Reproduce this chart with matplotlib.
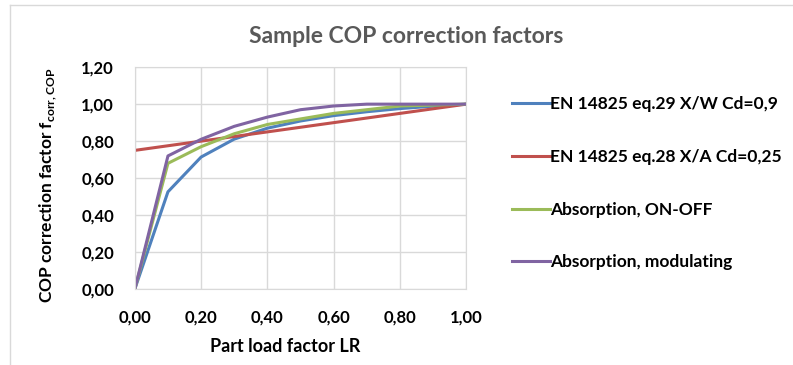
import numpy as np
import matplotlib.pyplot as plt
from matplotlib.lines import Line2D

plt.rcParams['font.family'] = ['Lato', 'DejaVu Sans']

lr = [0.0, 0.1, 0.2, 0.3, 0.4, 0.5, 0.6, 0.7, 0.8, 0.9, 1.0]
en29 = [0.0, 0.526, 0.714, 0.811, 0.870, 0.909, 0.938, 0.959, 0.976, 0.989, 1.0]
en28 = [0.75, 0.775, 0.80, 0.825, 0.85, 0.875, 0.90, 0.925, 0.95, 0.975, 1.0]
onoff = [0.0, 0.68, 0.77, 0.84, 0.89, 0.92, 0.95, 0.97, 0.99, 0.995, 1.0]
modul = [0.0, 0.72, 0.81, 0.88, 0.93, 0.97, 0.99, 1.0, 1.0, 1.0, 1.0]

names = ["EN 14825 eq.29 X/W Cd=0,9", "EN 14825 eq.28 X/A Cd=0,25",
         "Absorption, ON-OFF", "Absorption, modulating"]
colors = ["#4F81BD", "#C0504D", "#9BBB59", "#8064A2"]

fig = plt.figure(figsize=(7.93, 3.65), dpi=100)
ax = fig.add_axes([0.170, 0.208, 0.418, 0.608])

for ys, c in zip([en29, en28, onoff, modul], colors):
    ax.plot(lr, ys, color=c, lw=2.2, solid_joinstyle='round')

ax.set_xlim(0, 1)
ax.set_ylim(0, 1.2)
ax.set_xticks(np.arange(0, 1.01, 0.2))
ax.set_yticks(np.arange(0, 1.21, 0.2))
ax.set_xticklabels([f"{v:.2f}".replace('.', ',') for v in np.arange(0, 1.01, 0.2)])
ax.set_yticklabels([f"{v:.2f}".replace('.', ',') for v in np.arange(0, 1.21, 0.2)])
ax.tick_params(length=0, labelsize=12, pad=15)
for t in ax.get_xticklabels() + ax.get_yticklabels():
    t.set_fontweight('bold')
ax.grid(color='#D9D9D9', lw=1)
for s in ax.spines.values():
    s.set_color('#D9D9D9')

ax.set_xlabel("Part load factor LR", fontsize=13, fontweight='bold')
ax.xaxis.set_label_coords(0.453, -0.222)
ax.set_ylabel(r"COP correction factor f$_{\mathregular{corr,COP}}$", fontsize=12.5,
              fontweight='bold')
ax.yaxis.set_label_coords(-0.228, 0.47)

fig.text(0.512, 0.901, "Sample COP correction factors", ha='center', va='center',
         fontsize=16.5, fontweight='bold', color='#595959')

handles = [Line2D([], [], color=c, lw=2.2) for c in colors]
leg = fig.legend(handles, names, loc='upper left', bbox_to_anchor=(0.646, 0.737),
                 frameon=False, borderpad=0, borderaxespad=0,
                 handlelength=2.15, handletextpad=0.05,
                 labelspacing=2.12, prop={'weight': 'bold', 'size': 12.5})

fig.add_artist(Line2D([0.012, 1.0], [0.986, 0.986], color='#D9D9D9', lw=1))
fig.add_artist(Line2D([0.012, 0.012], [0.0, 0.986], color='#D9D9D9', lw=1))

fig.savefig("out.png", dpi=100)
